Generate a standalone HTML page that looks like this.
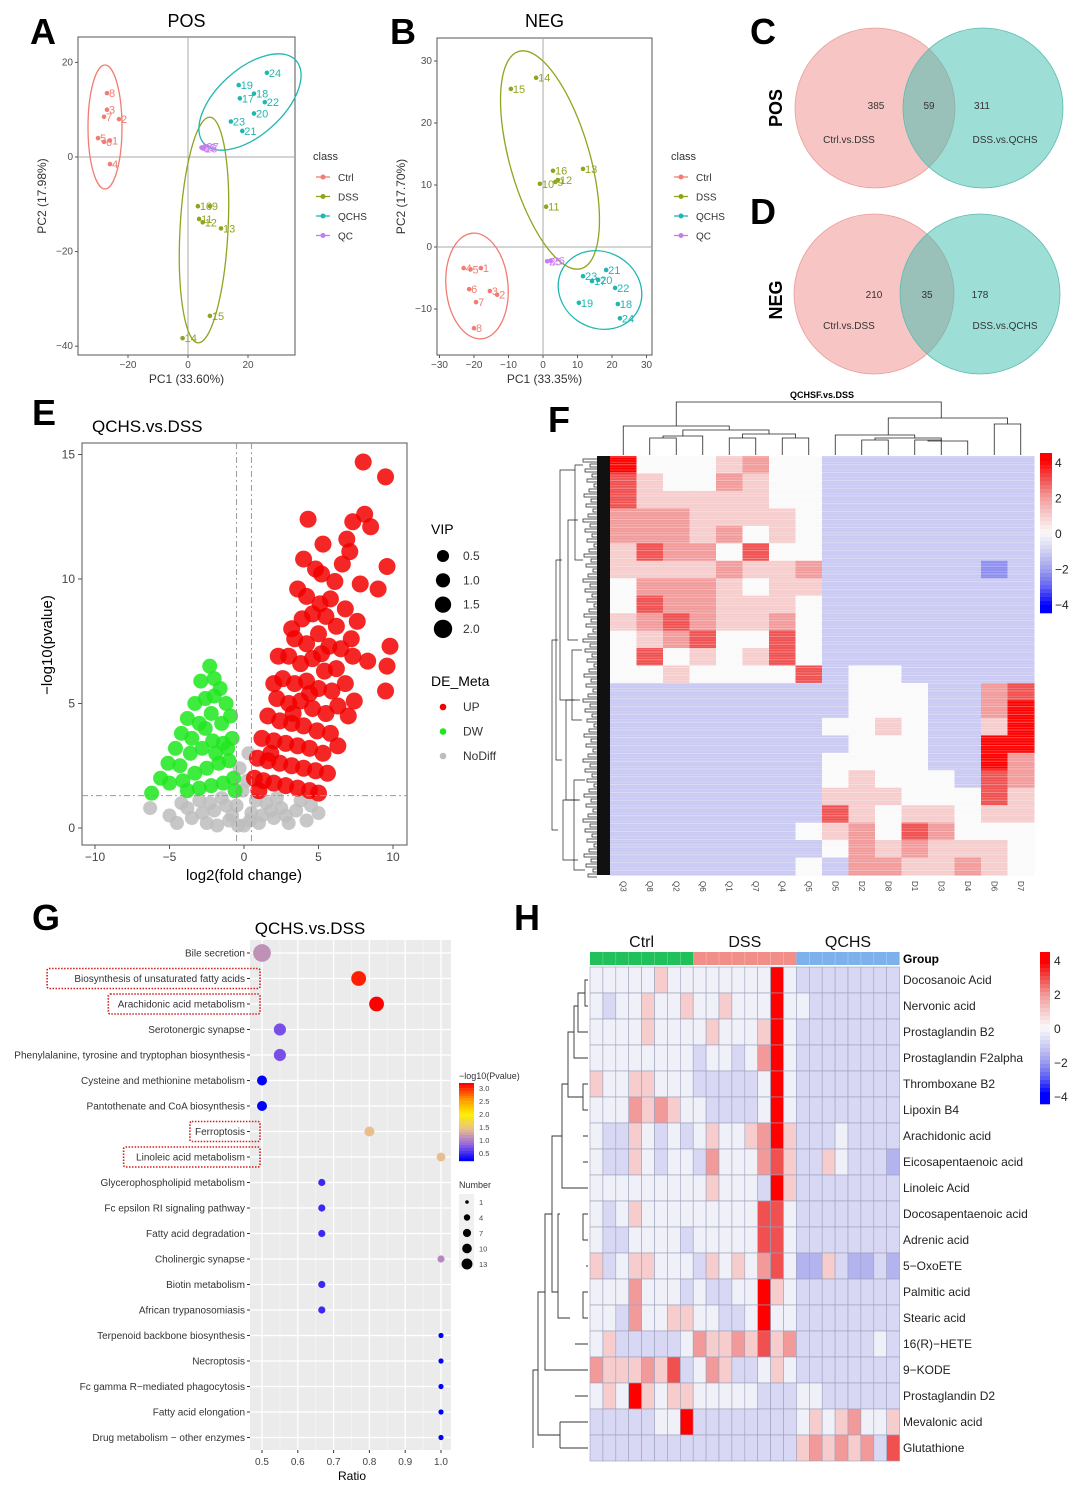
<!DOCTYPE html>
<html><head><meta charset="utf-8"><style>
html,body{margin:0;padding:0;background:#fff;}
svg{display:block;font-family:"Liberation Sans",Arial,sans-serif;}
.lt{font-size:36px;font-weight:bold;fill:#000;}
.tk{font-size:10px;fill:#4d4d4d;}
.ax{font-size:12px;fill:#222;}
</style></head><body>
<svg id="fig" width="1080" height="1486" viewBox="0 0 1080 1486" xmlns="http://www.w3.org/2000/svg">
<rect width="1080" height="1486" fill="#fff"/>
<text class="lt" x="30" y="44">A</text>
<text class="lt" x="390" y="44">B</text>
<text class="lt" x="750" y="44">C</text>
<text class="lt" x="750" y="224">D</text>
<text class="lt" x="32" y="425">E</text>
<text class="lt" x="548" y="432">F</text>
<text class="lt" x="32" y="930">G</text>
<text class="lt" x="514" y="930">H</text>
<g id="gA"></g>
<g id="gB"></g>
<g id="gC"></g>
<g id="gE"></g>
<g id="gF"></g>
<g id="gG"></g>
<g id="gH"></g>
</svg>
<script>
// ---------- DATA ----------
const classNames=["Ctrl","DSS","QCHS","QC"];
const classColors=["#f07c72","#8ca61e","#1fb7b0","#c77cf0"];
// PCA POS
const posLabels=["8","3","7","2","5","6","1","4","10","9","11","12","13","15","14","24","19","17","18","22","20","23","21","25","26","27"];
const posClass=[0,0,0,0,0,0,0,0,1,1,1,1,1,1,1,2,2,2,2,2,2,2,2,3,3,3];
const posX=[-27,-27,-28,-23,-30,-28,-26,-26,3.3,7.3,3.7,4.9,11,7.3,-1.8,26.3,16.9,17.3,22,25.6,22,14.3,18.1,4.5,5,5.5];
const posY=[13.5,10,8.5,8,4,3.2,3.5,-1.5,-10.4,-10.4,-13.1,-13.8,-15.1,-33.6,-38.3,17.8,15.2,12.4,13.4,11.6,9.2,7.5,5.5,2,1.8,2.2];
// PCA NEG
const negLabels=["15","14","16","13","12","10","11","9","1","4","5","6","3","2","7","8","21","23","20","22","19","18","24","17","25","26"];
const negClass=[1,1,1,1,1,1,1,1,0,0,0,0,0,0,0,0,2,2,2,2,2,2,2,2,3,3];
const negX=[-9.3,-2,2.9,11.6,4.3,-0.9,0.9,3.6,-18,-23,-21,-21.4,-15.4,-13.3,-19.4,-20,18.3,11.6,16,20.9,10.4,21.7,22.3,14.2,1.2,2.2];
const negY=[25.5,27.3,12.3,12.6,10.8,10.2,6.5,10.5,-3.4,-3.4,-3.6,-6.8,-7.1,-7.7,-8.9,-13.1,-3.7,-4.7,-5.3,-6.6,-9,-9.2,-11.5,-5.5,-2.3,-2.2];
// Venn
const vennPos=[385,59,311];
const vennNeg=[210,35,178];
// Volcano
const upX=[8.0,9.5,8.1,8.5,4.3,5.3,7.1,6.6,9.0,9.6,4.8,9.8,9.6,9.5,8.3,7.4,7.0,6.3,5.0,7.8,6.1,5.8,5.1,4.2,3.9,4.6,5.5,6.2,5.0,3.4,4.2,5.7,6.5,3.0,3.8,4.6,5.4,6.2,7.3,2.6,3.4,4.2,5.0,5.9,6.8,2.2,3.0,3.8,4.6,5.5,6.3,1.6,2.4,3.2,4.0,4.9,5.8,1.2,2.0,2.8,3.6,4.4,5.3,0.9,1.6,2.4,3.2,4.0,4.8,5.6,0.7,1.3,2.0,2.8,3.6,4.4,1.0,2.3,3.6,5.2,4.0,6.8,7.6,7.2,1.8,3.3,4.4,5.2,6.9,7.3,3.2,2.0];
const upY=[14.7,14.1,12.6,12.1,12.4,11.4,11.1,10.6,9.6,10.5,10.4,7.3,6.5,5.5,6.7,5.1,4.5,3.3,1.4,9.8,9.9,9.2,9.0,9.3,8.4,8.6,8.5,8.1,7.8,7.6,7.4,7.3,7.2,6.9,6.6,6.8,6.3,6.4,6.9,6.0,5.8,5.9,5.6,5.5,5.8,5.2,5.0,5.1,4.8,4.6,4.9,4.5,4.3,4.2,4.1,3.9,3.8,3.6,3.5,3.4,3.3,3.2,3.0,2.8,2.7,2.6,2.5,2.4,2.3,2.2,2.0,1.9,1.8,1.7,1.6,1.5,1.5,6.9,9.6,10.2,10.8,8.8,8.3,7.6,3.0,4.6,5.4,7.0,11.6,12.3,8.0,5.8];
const dwX=[-6.2,-5.6,-5.1,-4.6,-4.2,-3.8,-3.3,-2.9,-2.3,-2.0,-1.6,-1.2,-2.6,-3.0,-2.2,-1.5,-0.9,-0.8,-1.4,-2.1,-2.8,-3.6,-4.3,-5.0,-4.1,-3.3,-2.5,-1.7,-1.0,-0.7,-1.4,-2.2,-3.0,-3.8,-2.0,-1.1,-3.5,-2.6,-1.9,-0.6];
const dwY=[1.4,2.0,2.6,3.2,3.8,4.4,5.0,5.9,6.5,6.0,5.6,5.0,5.2,4.2,4.6,4.2,4.5,3.6,3.4,3.5,3.2,3.0,2.5,1.8,1.9,2.2,2.4,2.6,2.7,2.0,1.8,1.7,1.6,1.5,5.3,3.2,3.6,4.0,3.0,1.5];
const ndX=[-6.3,-5.0,-4.2,-3.5,-3.0,-2.5,-2.0,-1.5,-1.0,-0.5,0,0.5,1.0,1.5,2.0,2.5,3.0,3.5,4.2,5.0,-0.3,0.2,-0.1,0.3,-4.5,-2.8,-1.8,-0.8,0.8,1.8,2.8,3.8,4.5,-1.2,0.4,-0.4,1.2,-2.3,2.2,-3.8];
const ndY=[0.8,0.5,1.0,0.4,1.1,0.2,0.7,1.2,0.3,0.9,0.1,0.6,0.2,1.0,0.4,0.8,0.2,0.7,0.3,0.6,2.4,1.9,1.5,3.0,0.2,0.6,0.1,0.5,1.1,0.7,0.5,1.1,0.9,0.9,0.3,0.1,0.5,1.0,1.2,0.8];
const vipLevels=[0.5,1.0,1.5,2.0];
// Heatmap F (digit d -> value d-4)
const fCols=["Q3","Q8","Q2","Q6","Q1","Q7","Q4","Q5","D5","D2","D8","D1","D3","D4","D6","D7"];
const fRows=["8444564433333333","7544654433333333","7555554433333333","6665555433333333","6665645433333333","5766474433333333","5555655633333323","4666545533333333","4766555433333333","5676556433333333","4567447433333333","4745457433333333","4454444734433333","3333333334443367","3333333334443368","3333333344543358","3333333334443388","3333333344443386","3333333345444376","3333333355544475","3333333375455455","3333333456476444","3333333346565554","3333333436655654"];
const fTicks=["4","2","0","-2","-4"];
// Bubble G
const gPath=["Bile secretion","Biosynthesis of unsaturated fatty acids","Arachidonic acid metabolism","Serotonergic synapse","Phenylalanine, tyrosine and tryptophan biosynthesis","Cysteine and methionine metabolism","Pantothenate and CoA biosynthesis","Ferroptosis","Linoleic acid metabolism","Glycerophospholipid metabolism","Fc epsilon RI signaling pathway","Fatty acid degradation","Cholinergic synapse","Biotin metabolism","African trypanosomiasis","Terpenoid backbone biosynthesis","Necroptosis","Fc gamma R\u2212mediated phagocytosis","Fatty acid elongation","Drug metabolism \u2212 other enzymes"];
const gRatio=[0.5,0.77,0.82,0.55,0.55,0.5,0.5,0.8,1.0,0.667,0.667,0.667,1.0,0.667,0.667,1,1,1,1,1];
const gLogP=[1.25,2.9,3.0,0.9,0.9,0.5,0.5,1.5,1.5,0.7,0.7,0.7,1.2,0.7,0.7,0.5,0.5,0.5,0.5,0.5];
const gNum=[13,9,9,6,6,4,4,4,3,2,2,2,2,2,2,1,1,1,1,1];
const gBoxed=[1,2,7,8];
const gXTicks=[0.5,0.6,0.7,0.8,0.9,1.0];
const gNumLegend=[1,4,7,10,13];
const gColTicks=[3.0,2.5,2.0,1.5,1.0,0.5];
// Heatmap H
const hGroups=["Ctrl","DSS","QCHS"];
const hRowsNames=["Docosanoic Acid","Nervonic acid","Prostaglandin B2","Prostaglandin F2alpha","Thromboxane B2","Lipoxin B4","Arachidonic acid","Eicosapentaenoic acid","Linoleic Acid","Docosapentaenoic acid","Adrenic acid","5\u2212OxoETE","Palmitic acid","Stearic acid","16(R)\u2212HETE","9\u2212KODE","Prostaglandin D2","Mevalonic acid","Glutathione"];
const hRows=["444445444444448433333333","434454454454448443333333","444454444544458433333333","444444443443468433333333","544554443333348433333333","444656544333348433333333","433543434544568533343333","433543443644467533543332","444444444544438533333333","434544444444477433333333","433444434444477433333333","534554443545467422532232","444644434334485433333333","443644554433484433333333","453333346556575633333343","655565734653345433333333","454854554444433344333333","333334483333333345456445","333333333333333356565637"];
const hTicks=["4","2","0","-2","-4"];

// ---------- HELPERS ----------
const NS="http://www.w3.org/2000/svg";
function mk(tag,parent,at){const e=document.createElementNS(NS,tag);for(const k in at)e.setAttribute(k,at[k]);parent.appendChild(e);return e;}
function tx(parent,x,y,s,at){const e=mk('text',parent,Object.assign({x:x,y:y},at||{}));e.textContent=s;return e;}
function lerp(a,b,t){return Math.round(a+(b-a)*t);}
const hmStops=[[0,0,255],[96,96,245],[160,160,238],[208,208,244],[250,250,250],[246,204,204],[242,154,154],[240,80,80],[255,0,0]];
function hmColor(v){let p=Math.max(0,Math.min(8,v+4));let i=Math.min(7,Math.floor(p)),t=p-i;const a=hmStops[i],b=hmStops[i+1];return `rgb(${lerp(a[0],b[0],t)},${lerp(a[1],b[1],t)},${lerp(a[2],b[2],t)})`;}

// ---------- PCA ----------
function pca(gid,title,box,xs,ys,xT,yT,xlab,ylab,labs,cls,X,Y,ells,legX){
  const g=document.getElementById(gid);
  const sx=v=>xs[0]+v*xs[1], sy=v=>ys[0]-v*ys[1];
  let t=tx(g,(box[0]+box[2])/2,27,title,{'font-size':18,'text-anchor':'middle'});
  
  let r=mk('rect',g,{x:box[0],y:box[1],width:box[2]-box[0],height:box[3]-box[1],fill:'#fff',stroke:'#555','stroke-width':1});
  
  mk('line',g,{x1:sx(0),x2:sx(0),y1:box[1],y2:box[3],stroke:'#aaa'});
  mk('line',g,{x1:box[0],x2:box[2],y1:sy(0),y2:sy(0),stroke:'#aaa'});
  xT.forEach(v=>{mk('line',g,{x1:sx(v),x2:sx(v),y1:box[3],y2:box[3]+3,stroke:'#555'});let e=tx(g,sx(v),box[3]+13,v===0?'0':String(v).replace('-','\u2212'),{class:'tk','text-anchor':'middle'});});
  yT.forEach(v=>{mk('line',g,{x1:box[0]-3,x2:box[0],y1:sy(v),y2:sy(v),stroke:'#555'});let e=tx(g,box[0]-5,sy(v)+3,String(v).replace('-','\u2212'),{class:'tk','text-anchor':'end'});});
  let xl=tx(g,(box[0]+box[2])/2,box[3]+28,xlab,{'font-size':12,fill:'#333','text-anchor':'middle'});
  
  let yl=tx(g,0,0,ylab,{'font-size':12,fill:'#333','text-anchor':'middle',transform:`translate(${box[0]-32},${(box[1]+box[3])/2}) rotate(-90)`});
  
  ells.forEach(el=>{let e=mk('ellipse',g,{cx:el[0],cy:el[1],rx:el[2],ry:el[3],transform:`rotate(${el[4]} ${el[0]} ${el[1]})`,fill:'none',stroke:classColors[el[5]],'stroke-width':1.3});});
  X.forEach((v,i)=>{const c=classColors[cls[i]];
    let p=mk('circle',g,{cx:sx(v),cy:sy(Y[i]),r:2.3,fill:c});
    
    let l=tx(g,sx(v)+2,sy(Y[i])+4,labs[i],{'font-size':11,fill:c});
    });
  let lt=tx(g,legX,160,'class',{'font-size':11,fill:'#333'});
  
  classNames.forEach((n,i)=>{const y=181+i*19.5;
    mk('line',g,{x1:legX+3,x2:legX+17,y1:y-4,y2:y-4,stroke:classColors[i],'stroke-width':1.3});
    mk('circle',g,{cx:legX+10,cy:y-4,r:2.5,fill:classColors[i]});
    let e=tx(g,legX+25,y,n,{'font-size':10,fill:'#333'});});
}
pca('gA','POS',[78,37,295,355],[188,3],[157,4.73],[-20,0,20],[20,0,-20,-40],'PC1 (33.60%)','PC2 (17.98%)',posLabels,posClass,posX,posY,
  [[105,127,17,62,0,0],[204,230,24,113,3,1],[250,102,62,33,-42,2]],313);
pca('gB','NEG',[437,38,652,355],[543,3.45],[247,6.2],[-30,-20,-10,0,10,20,30],[30,20,10,0,-10],'PC1 (33.35%)','PC2 (17.70%)',negLabels,negClass,negX,negY,
  [[550,160,40,113,-16,1],[477,286,31,53,-5,0],[600,290,43,38,30,2]],671);

// ---------- VENN ----------
(function(){const g=document.getElementById('gC');
 [[108,vennPos,'POS'],[294,vennNeg,'NEG']].forEach(([cy,vals,lab],k)=>{
  const lx=k?874:875, rx=k?980:983;
  let a=mk('circle',g,{cx:lx,cy:cy,r:80,fill:'rgba(240,140,135,0.5)',stroke:'#e8a09a','stroke-width':0.8});
  
  let b=mk('circle',g,{cx:rx,cy:cy,r:80,fill:'rgba(60,190,175,0.5)',stroke:'#5fbcb0','stroke-width':0.8});
  
  [876-(k?2:0),(lx+rx)/2,982-(k?2:0)].forEach((x,i)=>{let e=tx(g,x,cy+(k?0:-3)+4,String(vals[i]),{'font-size':10,fill:'#333','text-anchor':'middle'});});
  let c1=tx(g,849,cy+35,'Ctrl.vs.DSS',{'font-size':10,fill:'#333','text-anchor':'middle'});
  let c2=tx(g,1005,cy+35,'DSS.vs.QCHS',{'font-size':10,fill:'#333','text-anchor':'middle'});
  let t=tx(g,0,0,lab,{'font-size':18,'font-weight':'bold','text-anchor':'middle',transform:`translate(782,${cy+(k?6:0)}) rotate(-90)`});
 });})();

// ---------- VOLCANO ----------
(function(){const g=document.getElementById('gE');
 const sx=v=>244+v*14.9, sy=v=>828-v*24.9;
 let t=tx(g,92,432,'QCHS.vs.DSS',{'font-size':17});
 let r=mk('rect',g,{x:82,y:443,width:325,height:402,fill:'#fff',stroke:'#555'});
 [-10,-5,0,5,10].forEach(v=>{mk('line',g,{x1:sx(v),x2:sx(v),y1:845,y2:849,stroke:'#555'});let e=tx(g,sx(v),861,String(v).replace('-','\u2212'),{'font-size':12,fill:'#444','text-anchor':'middle'});});
 [0,5,10,15].forEach(v=>{mk('line',g,{x1:78,x2:82,y1:sy(v),y2:sy(v),stroke:'#555'});let e=tx(g,75,sy(v)+4,String(v),{'font-size':12,fill:'#444','text-anchor':'end'});});
 let xl=tx(g,244,880,'log2(fold change)',{'font-size':15,'text-anchor':'middle'});
 let yl=tx(g,0,0,'\u2212log10(pvalue)',{'font-size':15,'text-anchor':'middle',transform:'translate(52,645) rotate(-90)'});
 const draw=(X,Y,col,rad,name)=>X.forEach((v,i)=>{let c=mk('circle',g,{cx:sx(v),cy:sy(Y[i]),r:rad,fill:col,'fill-opacity':0.85});});
 draw(ndX,ndY,'#bdbdbd',7,'nodiff-point');
 draw(dwX,dwY,'#1ee81e',7.5,'down-point');
 draw(upX,upY,'#f20000',8.5,'up-point');
 [-0.5,0.5].forEach(v=>mk('line',g,{x1:sx(v),x2:sx(v),y1:443,y2:845,stroke:'#999','stroke-dasharray':'6 3 2 3'}));
 mk('line',g,{x1:82,x2:407,y1:sy(1.3),y2:sy(1.3),stroke:'#999','stroke-dasharray':'6 3 2 3'});
 let vt=tx(g,431,534,'VIP',{'font-size':14});
 vipLevels.forEach((v,i)=>{const y=556+i*24.3;mk('circle',g,{cx:443,cy:y,r:5+v*2.1,fill:'#000'});let e=tx(g,463,y+4,v.toFixed(1),{'font-size':12,fill:'#333'});});
 let dt=tx(g,431,686,'DE_Meta',{'font-size':14});
 [['UP','#f20000'],['DW','#1ee81e'],['NoDiff','#bdbdbd']].forEach(([n,c],i)=>{const y=707+i*24.5;mk('circle',g,{cx:443,cy:y,r:3.3,fill:c});let e=tx(g,463,y+4,n,{'font-size':12,fill:'#333'});});
})();

// ---------- HEATMAP F ----------
(function(){const g=document.getElementById('gF');
 const x0=610,x1=1034,y0=456,y1=875,cw=(x1-x0)/fCols.length,rh=(y1-y0)/fRows.length;
 let t=tx(g,822,398,'QCHSF.vs.DSS',{'font-size':9,'font-weight':'bold','text-anchor':'middle'});
 fRows.forEach((s,ri)=>{for(let ci=0;ci<s.length;ci++){const v=+s[ci]-4;let c=mk('rect',g,{x:x0+ci*cw,y:y0+ri*rh,width:cw+0.5,height:rh+0.5,fill:hmColor(v<0?v*1.15:v)});}});
 let k=0;for(let y=y0+1;y<y1;y+=2.6,k++){mk('line',g,{x1:x0,x2:x1,y1:y,y2:y,stroke:'#fff','stroke-opacity':(k%3===0?0.35:(k%3===1?0.12:0.22)),'stroke-width':1});}
 fCols.forEach((c,i)=>{let e=tx(g,0,0,c,{'font-size':8,fill:'#444',transform:`translate(${x0+(i+0.5)*cw-3},${y1+6}) rotate(90)`});});
 const cx=i=>x0+(i+0.5)*cw; const dd=mk('g',g,{stroke:'#222','stroke-width':0.8,fill:'none'});
 
 const br=(a,b,ya,yb,yt)=>mk('path',dd,{d:`M${a} ${ya}V${yt}H${b}V${yb}`});
 br(cx(1),cx(2),455,455,438);br(cx(4),cx(5),455,455,438);br(cx(6),cx(7),455,455,438);
 br((cx(1)+cx(2))/2,cx(3),438,455,436);br((cx(4)+cx(5))/2,(cx(6)+cx(7))/2,438,438,434);
 br((cx(1)+cx(2)+2*cx(3))/4,(cx(4)+cx(5)+cx(6)+cx(7))/4,436,434,430);
 br(cx(0),(cx(3)+cx(5))/2,455,430,426);
 br(cx(9),cx(10),455,455,440);br(cx(11),cx(12),455,455,440);br((cx(11)+cx(12))/2,cx(13),440,455,441);
 br((cx(9)+cx(10))/2,cx(12),440,441,438);br(cx(8),cx(11),455,438,435);
 br(cx(14),cx(15),455,455,424);br(cx(10),(cx(14)+cx(15))/2,435,424,418);
 br((cx(0)+cx(4))/2,cx(12),426,418,402);
 mk('rect',g,{x:597,y:y0,width:13,height:y1-y0,fill:'#111'});
 const ld=mk('g',g,{stroke:'#222','stroke-width':0.7,fill:'none'});
 for(let y=y0+3,j=0;y<y1;y+=5,j++){const xe=583+(j*7)%12;mk('path',ld,{d:`M597 ${y}H${xe}V${y+3}H597`});}
 [[575,465,560,583],[568,520,640,578],[560,470,700,575],[572,650,720,582],[566,700,800,580],[574,780,870,585],[556,560,760,562],[552,640,830,558],[563,800,860,578]].forEach(([x,a,b,xe])=>mk('path',ld,{d:`M${xe} ${a}H${x}V${b}H${xe}`}));
 const cb=mk('g',g,{});
 for(let i=0;i<40;i++){mk('rect',cb,{x:1040,y:453+i*4,width:12,height:4.3,fill:hmColor(4.3-i*8.6/39)});}
 fTicks.forEach((s,i)=>{let e=tx(g,1055,467+i*35.5,s.replace('-','\u2212'),{'font-size':12,fill:'#222'});});
})();

// ---------- BUBBLE G ----------
(function(){const g=document.getElementById('gG');
 const px0=250,px1=451,py0=940,py1=1450, sx=v=>262+(v-0.5)*358, sy=i=>953+i*25.5;
 const cstops=[[0.5,[0,0,255]],[1.0,[150,100,225]],[1.5,[232,190,140]],[2.0,[255,240,0]],[2.5,[255,150,0]],[3.0,[255,0,0]]];
 const col=v=>{for(let i=0;i<cstops.length-1;i++){const [a,ca]=cstops[i],[b,cb]=cstops[i+1];if(v<=b){const t=Math.max(0,(v-a)/(b-a));return `rgb(${lerp(ca[0],cb[0],t)},${lerp(ca[1],cb[1],t)},${lerp(ca[2],cb[2],t)})`;}}return 'rgb(255,0,0)';};
 let t=tx(g,310,934,'QCHS.vs.DSS',{'font-size':17,'text-anchor':'middle'});
 let bg=mk('rect',g,{x:px0,y:py0,width:px1-px0,height:py1-py0,fill:'#ebebeb'});
 for(let v=0.55;v<1.05;v+=0.1)mk('line',g,{x1:sx(v),x2:sx(v),y1:py0,y2:py1,stroke:'#f5f5f5','stroke-width':0.7});
 gXTicks.forEach(v=>{mk('line',g,{x1:sx(v),x2:sx(v),y1:py0,y2:py1,stroke:'#fff','stroke-width':1.3});mk('line',g,{x1:sx(v),x2:sx(v),y1:py1,y2:py1+3,stroke:'#333'});let e=tx(g,sx(v),py1+15,v.toFixed(1),{'font-size':10,fill:'#444','text-anchor':'middle'});});
 gPath.forEach((n,i)=>{mk('line',g,{x1:px0,x2:px1,y1:sy(i),y2:sy(i),stroke:'#fff','stroke-width':1.3});mk('line',g,{x1:px0-3,x2:px0,y1:sy(i),y2:sy(i),stroke:'#333'});
   let e=tx(g,px0-5,sy(i)+3.5,n,{'font-size':10,fill:'#333','text-anchor':'end'});});
 gBoxed.forEach(i=>{const w=gPath[i].length*5.1+14;let b=mk('rect',g,{x:px0+10-w,y:sy(i)-10,width:w,height:20,fill:'none',stroke:'#d21e1e','stroke-width':1.6,'stroke-dasharray':'1.5 1.5',rx:2});});
 gRatio.forEach((v,i)=>{let c=mk('circle',g,{cx:sx(v),cy:sy(i),r:2.4*Math.sqrt(gNum[i])+0.2,fill:col(gLogP[i])});});
 let xl=tx(g,352,1480,'Ratio',{'font-size':12,'text-anchor':'middle'});
 let lt=tx(g,459,1079,'\u2212log10(Pvalue)',{'font-size':9,fill:'#333'});
 for(let i=0;i<30;i++){mk('rect',g,{x:459,y:1083+i*2.6,width:15,height:2.8,fill:col(3.0-i*2.5/29)});}
 gColTicks.forEach((v,i)=>{let e=tx(g,479,1091+i*13,v.toFixed(1),{'font-size':7.5,fill:'#444'});});
 let nt=tx(g,459,1188,'Number',{'font-size':9,fill:'#333'});
 mk('rect',g,{x:459,y:1194,width:15,height:74,fill:'#f0f0f0'});
 gNumLegend.forEach((n,i)=>{const y=1202+i*15.5;mk('circle',g,{cx:467,cy:y,r:1.4*Math.sqrt(n)+0.4,fill:'#000'});let e=tx(g,479,y+3,String(n),{'font-size':7.5,fill:'#444'});});
})();

// ---------- HEATMAP H ----------
(function(){const g=document.getElementById('gH');
 const x0=590,y0=967,cw=12.9,rh=26,gc=['#20c05a','#f28e88','#7db1ec'];
 hGroups.forEach((n,k)=>{let r=mk('rect',g,{x:x0+k*8*cw,y:952,width:8*cw,height:13,fill:gc[k]});
   for(let j=1;j<8;j++)mk('line',g,{x1:x0+(k*8+j)*cw,x2:x0+(k*8+j)*cw,y1:952,y2:965,stroke:'rgba(255,255,255,0.35)','stroke-width':0.6});
   let e=tx(g,x0+(k*8+4)*cw,947,n,{'font-size':16,'text-anchor':'middle',fill:'#111'});});
 let gl=tx(g,903,963,'Group',{'font-size':12,'font-weight':'bold'});
 hRows.forEach((s,ri)=>{for(let ci=0;ci<s.length;ci++){const d=+s[ci];let c=mk('rect',g,{x:x0+ci*cw,y:y0+ri*rh,width:cw,height:rh,fill:hmColor(d===4?-0.25:(d<4?(d-4)*0.8:d-4)),stroke:'#9aa0b8','stroke-width':0.6});}
   let e=tx(g,903,y0+ri*rh+17,hRowsNames[ri],{'font-size':12,fill:'#222'});});
 const ld=mk('g',g,{stroke:'#333','stroke-width':0.9,fill:'none'});
 const cy=i=>y0+(i+0.5)*rh;
 [[585,0,1],[583,4,5],[583,9,10],[583,12,13]].forEach(([x,a,b])=>mk('path',ld,{d:`M588 ${cy(a)}H${x}V${cy(b)}H588`}));
 mk('path',ld,{d:`M585 ${(cy(0)+cy(1))/2}H578V${cy(2)}H588`});
 mk('path',ld,{d:`M578 ${(cy(0)+cy(2))/2}H574V${cy(3)}H588`});
 mk('path',ld,{d:`M574 ${cy(2)}H568V${(cy(4)+cy(5))/2}H583`});
 mk('path',ld,{d:`M583 ${cy(6)}H588M583 ${cy(7)}H588M583 ${cy(8)}H588M586 ${cy(11)}H588`});
 mk('path',ld,{d:`M568 ${cy(4)}H562V${cy(8)}H583`});
 mk('path',ld,{d:`M560 ${cy(9)}H558V${cy(13)}H570`});
 mk('path',ld,{d:`M562 ${cy(6)}H552V${cy(12)}H558`});
 mk('path',ld,{d:`M575 ${cy(14)}H588M575 ${cy(15)}H588M575 ${cy(16)}H588M560 ${cy(17)}H588M560 ${cy(18)}H588`});
 mk('path',ld,{d:`M552 ${cy(9)}H545V${cy(15)}H575`});
 mk('path',ld,{d:`M545 ${cy(12)}H538V${cy(17.5)}H560`});
 mk('path',ld,{d:`M560 ${cy(17)}V${cy(18)}`});
 mk('path',ld,{d:`M538 ${cy(15)}H533V${cy(18)}`});
 const cb=mk('g',g,{});
 for(let i=0;i<38;i++){mk('rect',cb,{x:1040,y:952+i*4,width:10,height:4.3,fill:hmColor(4.5-i*9/37)});}
 hTicks.forEach((s,i)=>{let e=tx(g,1054,965+i*34,s.replace('-','\u2212'),{'font-size':12,fill:'#222'});});
})();
</script>
</body></html>
